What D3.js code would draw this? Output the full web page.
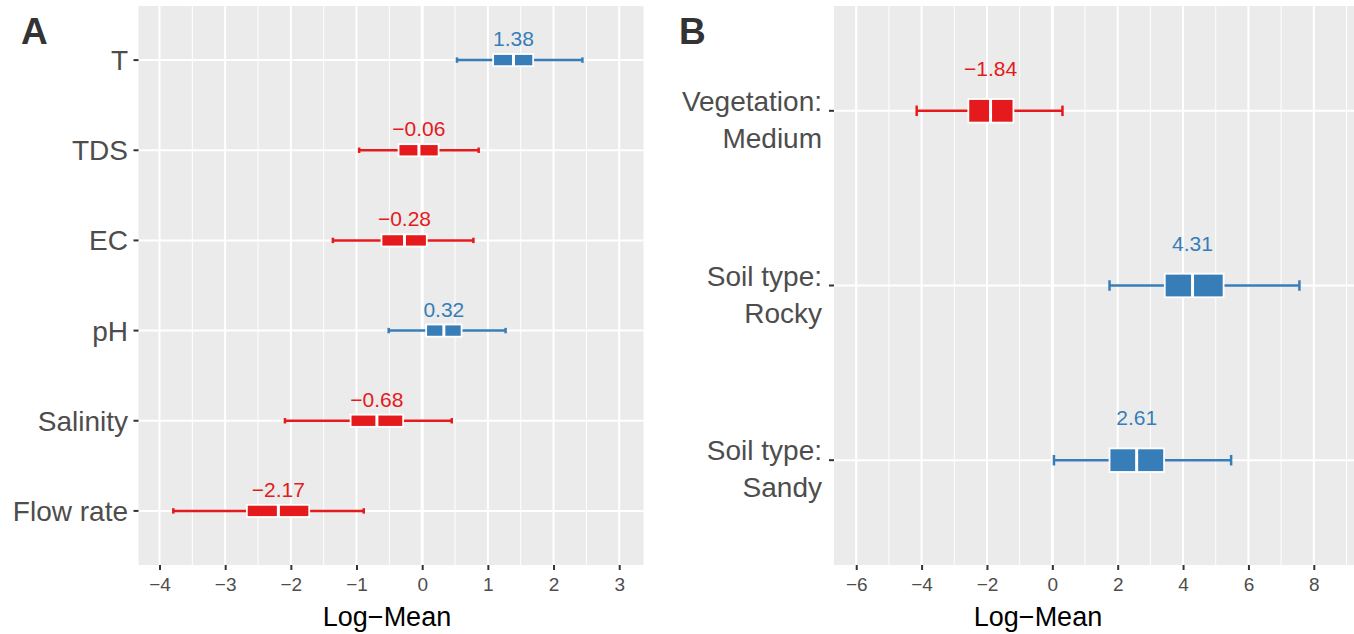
<!DOCTYPE html>
<html>
<head>
<meta charset="utf-8">
<script src="https://cdn.jsdelivr.net/npm/d3@7"></script>
<style>
  body { margin: 0; background: #fff; }
  text { font-family: "Liberation Sans", Arial, sans-serif; }
</style>
</head>
<body>
<div id="chart-area"></div>
<script>
// panel A data
const catsA = ["T", "TDS", "EC", "pH", "Salinity", "Flow rate"];
const meanA = [1.38, -0.06, -0.28, 0.32, -0.68, -2.17];
const loA  = [0.53, -0.96, -1.36, -0.51, -2.09, -3.79];
const q1A  = [1.08, -0.36, -0.62, 0.06, -1.09, -2.67];
const medA = [1.39, -0.05, -0.27, 0.33, -0.69, -2.19];
const q3A  = [1.69, 0.25, 0.07, 0.60, -0.29, -1.72];
const hiA  = [2.44, 0.86, 0.78, 1.27, 0.45, -0.89];
const ticksA = [-4, -3, -2, -1, 0, 1, 2, 3];

// panel B data
const catsB = [["Vegetation:", "Medium"], ["Soil type:", "Rocky"], ["Soil type:", "Sandy"]];
const meanB = [-1.84, 4.31, 2.61];
const loB  = [-4.15, 1.75, 0.05];
const q1B  = [-2.57, 3.44, 1.75];
const medB = [-1.89, 4.29, 2.58];
const q3B  = [-1.19, 5.24, 3.42];
const hiB  = [0.31, 7.56, 5.47];
const ticksB = [-6, -4, -2, 0, 2, 4, 6, 8];

const width = 1354;
const height = 634;
const red = "#E41A1C";
const blue = "#377EB8";

var svg = d3.select("#chart-area").append("svg")
	.attr("width", width)
	.attr("height", height);

function renderPanel(p) {
	var n = p.cats.length;
	var rows = d3.range(n);

	var x = d3.scaleLinear()
		.domain(p.domain)
		.range([p.left, p.right]);

	var y = d3.scalePoint()
		.domain(rows)
		.range([p.top, p.bottom])
		.padding(0.6);

	var step = y.step();
	var boxH = step * 0.135;
	var capH = step * 0.06;

	var g = svg.append("g");

	g.append("rect")
		.attr("x", p.left)
		.attr("y", p.top)
		.attr("width", p.right - p.left)
		.attr("height", p.bottom - p.top)
		.attr("fill", "#EBEBEB");

	// minor grid
	var minor = d3.range(Math.ceil(p.domain[0] / p.minor) * p.minor, p.domain[1], p.minor);
	g.selectAll(".minor")
		.data(minor)
		.enter().append("line")
		.attr("x1", d => x(d)).attr("x2", d => x(d))
		.attr("y1", p.top).attr("y2", p.bottom)
		.attr("stroke", "#fff")
		.attr("stroke-width", 1);

	g.selectAll(".major")
		.data(p.ticks)
		.enter().append("line")
		.attr("x1", d => x(d)).attr("x2", d => x(d))
		.attr("y1", p.top).attr("y2", p.bottom)
		.attr("stroke", "#fff")
		.attr("stroke-width", 2);

	g.selectAll(".hgrid")
		.data(rows)
		.enter().append("line")
		.attr("x1", p.left).attr("x2", p.right)
		.attr("y1", d => y(d)).attr("y2", d => y(d))
		.attr("stroke", "#fff")
		.attr("stroke-width", 2);

	// zero line
	g.append("line")
		.attr("x1", x(0)).attr("x2", x(0))
		.attr("y1", p.top).attr("y2", p.bottom)
		.attr("stroke", "#fff")
		.attr("stroke-width", 3);

	var col = i => p.mean[i] < 0 ? red : blue;

	// whiskers
	g.selectAll(".whisker")
		.data(rows)
		.enter().append("line")
		.attr("x1", i => x(p.lo[i])).attr("x2", i => x(p.hi[i]))
		.attr("y1", i => y(i)).attr("y2", i => y(i))
		.attr("stroke", col)
		.attr("stroke-width", 2.5);

	rows.forEach(function(i) {
		[p.lo[i], p.hi[i]].forEach(function(v) {
			g.append("line")
				.attr("x1", x(v)).attr("x2", x(v))
				.attr("y1", y(i) - capH / 2).attr("y2", y(i) + capH / 2)
				.attr("stroke", col(i))
				.attr("stroke-width", 2.5);
		});
	});

	// boxes
	g.selectAll(".box")
		.data(rows)
		.enter().append("rect")
		.attr("x", i => x(p.q1[i]))
		.attr("y", i => y(i) - boxH / 2)
		.attr("width", i => x(p.q3[i]) - x(p.q1[i]))
		.attr("height", boxH)
		.attr("fill", col)
		.attr("stroke", "#fff")
		.attr("stroke-width", 1.8);

	g.selectAll(".median")
		.data(rows)
		.enter().append("line")
		.attr("x1", i => x(p.med[i])).attr("x2", i => x(p.med[i]))
		.attr("y1", i => y(i) - boxH / 2).attr("y2", i => y(i) + boxH / 2)
		.attr("stroke", "#fff")
		.attr("stroke-width", 3);

	// value labels
	g.selectAll(".vlab")
		.data(rows)
		.enter().append("text")
		.attr("x", i => x(p.med[i]))
		.attr("y", i => y(i) - p.labelOff)
		.attr("text-anchor", "middle")
		.attr("font-size", 21)
		.attr("fill", col)
		.text(i => d3.format(".2f")(p.mean[i]));

	// x axis
	var xAxis = g.append("g")
		.attr("transform", `translate(0,${p.bottom})`)
		.call(d3.axisBottom(x).tickValues(p.ticks).tickSize(5).tickPadding(8).tickFormat(d3.format("d")));
	xAxis.select(".domain").remove();
	xAxis.selectAll("line").attr("stroke", "#333").attr("stroke-width", 2);
	xAxis.selectAll("text")
		.attr("font-size", 19)
		.attr("fill", "#4D4D4D")
		.attr("font-family", "Liberation Sans, Arial, sans-serif");

	// y ticks
	g.selectAll(".ytick")
		.data(rows)
		.enter().append("line")
		.attr("x1", p.left - 5).attr("x2", p.left)
		.attr("y1", d => y(d)).attr("y2", d => y(d))
		.attr("stroke", "#333")
		.attr("stroke-width", 2);

	// y labels
	rows.forEach(function(i) {
		var lab = p.cats[i];
		var lines = Array.isArray(lab) ? lab : [lab];
		var t = g.append("text")
			.attr("text-anchor", "end")
			.attr("font-size", 28)
			.attr("fill", "#4D4D4D");
		lines.forEach(function(s, k) {
			t.append("tspan")
				.attr("x", p.labelX)
				.attr("y", y(i) + p.labelDy + k * 37)
				.text(s);
		});
	});

	svg.append("text")
		.attr("x", p.titleX)
		.attr("y", 626)
		.attr("text-anchor", "middle")
		.attr("font-size", 27)
		.attr("fill", "#000")
		.text("Log\u2212Mean");

	svg.append("text")
		.attr("x", p.tagX)
		.attr("y", 44)
		.attr("font-size", 37)
		.attr("font-weight", "bold")
		.attr("fill", "#333")
		.text(p.tag);
}

renderPanel({
	cats: catsA, mean: meanA, lo: loA, q1: q1A, med: medA, q3: q3A, hi: hiA,
	ticks: ticksA, minor: 0.5,
	domain: [-4.32, 3.37], left: 138.5, right: 643.5, top: 6, bottom: 565,
	labelOff: 14, labelX: 128, labelDy: 10, titleX: 387, tag: "A", tagX: 21
});

renderPanel({
	cats: catsB, mean: meanB, lo: loB, q1: q1B, med: medB, q3: q3B, hi: hiB,
	ticks: ticksB, minor: 1,
	domain: [-6.68, 9.23], left: 834, right: 1354, top: 6, bottom: 565,
	labelOff: 35, labelX: 822, labelDy: 0, titleX: 1038, tag: "B", tagX: 679
});
</script>
</body>
</html>
